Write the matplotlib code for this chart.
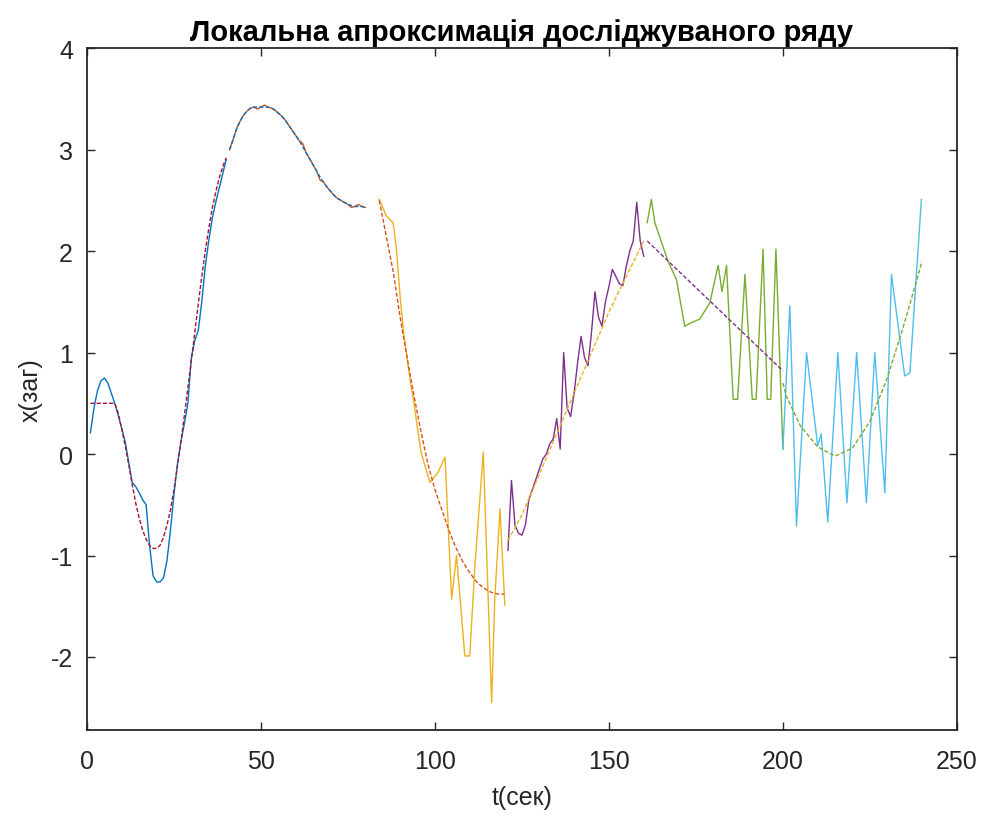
import matplotlib
matplotlib.use("Agg")
import matplotlib.pyplot as plt

plt.rcParams['font.family'] = ['Liberation Sans', 'DejaVu Sans']
plt.rcParams['axes.unicode_minus'] = False

# colour order (MATLAB default palette)
C = [(0.000, 0.447, 0.741), (0.850, 0.325, 0.098), (0.929, 0.694, 0.125),
     (0.494, 0.184, 0.556), (0.466, 0.674, 0.188), (0.301, 0.745, 0.933),
     (0.635, 0.078, 0.184)]

# ---- segment 1 (t = 1..40)
t1 = list(range(1, 41))
x1 = [0.21, 0.45, 0.62, 0.72, 0.75, 0.70, 0.60, 0.50, 0.38, 0.25,
      0.12, -0.08, -0.28, -0.32, -0.38, -0.45, -0.50, -0.90, -1.20, -1.26,
      -1.26, -1.22, -1.05, -0.75, -0.40, -0.10, 0.12, 0.30, 0.50, 0.95,
      1.12, 1.22, 1.50, 1.85, 2.10, 2.32, 2.48, 2.62, 2.76, 2.90]
ta1 = [1] + list(range(8, 41))
a1 = [0.50, 0.50, 0.40, 0.25, 0.08, -0.10, -0.30, -0.48, -0.63, -0.75,
      -0.84, -0.90, -0.93, -0.93, -0.90, -0.82, -0.70, -0.55, -0.35, -0.12,
      0.12, 0.38, 0.65, 0.92, 1.20, 1.48, 1.75, 2.00, 2.22, 2.42,
      2.58, 2.72, 2.83, 2.92]

# ---- segment 2 (t = 41..80)
t2 = list(range(41, 81))
x2 = [3.00, 3.10, 3.21, 3.28, 3.34, 3.38, 3.41, 3.42, 3.40, 3.42,
      3.44, 3.42, 3.41, 3.39, 3.36, 3.33, 3.29, 3.24, 3.19, 3.14,
      3.09, 3.06, 2.97, 2.91, 2.85, 2.79, 2.70, 2.68, 2.63, 2.59,
      2.55, 2.52, 2.50, 2.48, 2.46, 2.43, 2.44, 2.46, 2.44, 2.43]
a2 = [3.00, 3.10, 3.20, 3.28, 3.34, 3.38, 3.41, 3.42, 3.42, 3.42,
      3.42, 3.42, 3.41, 3.39, 3.36, 3.33, 3.29, 3.24, 3.19, 3.14,
      3.09, 3.03, 2.97, 2.91, 2.85, 2.79, 2.73, 2.68, 2.63, 2.59,
      2.55, 2.52, 2.50, 2.48, 2.46, 2.45, 2.44, 2.44, 2.44, 2.43]

# ---- segment 3 (t = 84..120)
t3 = [84, 86, 88, 89, 90, 91, 92, 93, 94, 95, 96, 97, 98.6, 100.9, 102.9,
      104.8, 106.2, 108.6, 110, 111.5, 113.9, 116.3, 117.2, 118.7, 120.1]
x3 = [2.51, 2.35, 2.28, 2.00, 1.55, 1.20, 0.95, 0.70, 0.50, 0.25, 0.02, -0.10,
      -0.28, -0.18, -0.03, -1.43, -1.00, -1.99, -1.99, -1.10, 0.02, -2.45,
      -1.43, -0.54, -1.49]
ta3 = [84, 86, 88, 90, 92, 94, 96, 98, 100, 102, 104, 106, 108, 110, 112,
       114, 116, 118, 120]
a3 = [2.50, 2.15, 1.80, 1.35, 0.95, 0.57, 0.22, -0.10, -0.35, -0.55, -0.75,
      -0.92, -1.06, -1.17, -1.26, -1.32, -1.36, -1.38, -1.38]

# ---- segment 4 (t = 121..160)
t4 = list(range(121, 161))
x4 = [-0.95, -0.26, -0.70, -0.78, -0.80, -0.70, -0.45, -0.35, -0.25, -0.15,
      -0.05, 0.00, 0.10, 0.15, 0.35, 0.05, 1.00, 0.45, 0.37, 0.60,
      0.90, 1.16, 0.95, 0.87, 1.20, 1.60, 1.35, 1.26, 1.50, 1.65,
      1.82, 1.75, 1.68, 1.66, 1.85, 2.00, 2.10, 2.48, 2.10, 1.95]
ta4 = [121, 125, 130, 135, 140, 145, 150, 155, 160]
a4 = [-0.85, -0.60, -0.20, 0.20, 0.60, 1.00, 1.40, 1.75, 2.10]

# ---- segment 5 (t = 161..200)
t5 = [161, 162.2, 163.2, 165.1, 167, 169.4, 171.8, 174, 176.1, 179, 181.4,
      182.5, 183.8, 185.7, 187, 189.1, 191.2, 192.3, 194.3, 195.5, 196.5,
      198, 200]
x5 = [2.28, 2.51, 2.28, 2.09, 1.90, 1.72, 1.26, 1.30, 1.33, 1.49, 1.86,
      1.60, 1.86, 0.54, 0.54, 1.77, 0.54, 0.54, 2.02, 0.54, 0.54,
      2.02, 0.05]
ta5 = [161, 200]
a5 = [2.10, 0.82]

# ---- segment 6 (t = 200..240)
t6 = [200, 202, 203.9, 206.8, 210, 211, 212.9, 215.8, 218.4, 221.2, 224,
      226.4, 229.3, 231.2, 235, 236.5, 239.8]
x6 = [0.05, 1.46, -0.71, 1.00, 0.08, 0.20, -0.67, 1.00, -0.48, 1.00, -0.48,
      1.00, -0.38, 1.77, 0.77, 0.80, 2.51]
ta6 = [200, 201, 205, 210, 215, 220, 225, 230, 235, 240]
a6 = [0.70, 0.57, 0.28, 0.07, -0.02, 0.06, 0.32, 0.75, 1.30, 1.90]

raw = [(t1, x1), (t2, x2), (t3, x3), (t4, x4), (t5, x5), (t6, x6)]
approx = [(ta1, a1), (t2, a2), (ta3, a3), (ta4, a4), (ta5, a5), (ta6, a6)]

fig = plt.figure(figsize=(9.88, 8.2), dpi=100)
ax = fig.add_axes([0.088, 0.1085, 0.8805, 0.8315])

for i, (t, x) in enumerate(raw):
    ax.plot(t, x, color=C[i % 7], lw=1.0)
for i, (t, x) in enumerate(approx):
    ax.plot(t, x, color=C[(i + 6) % 7], lw=1.0, ls=(0, (3, 1.5)))

ax.set_xlim(0, 250)
ax.set_ylim(-2.72, 4)
ax.set_xticks([0, 50, 100, 150, 200, 250])
ax.set_yticks([-2, -1, 0, 1, 2, 3, 4])

axc = (0.15, 0.15, 0.15)
for s in ax.spines.values():
    s.set_color(axc)
    s.set_linewidth(1.3)
ax.tick_params(direction='in', length=6, width=1.0, colors=axc,
               labelsize=18, top=True, right=True)
ax.tick_params(axis='x', pad=14)
ax.tick_params(axis='y', pad=10)

ax.set_title('Локальна апроксимація досліджуваного ряду',
             fontsize=21, fontweight='bold', pad=6)
ax.set_xlabel('t(сек)', fontsize=18, color=axc, labelpad=8)
ax.set_ylabel('x(заг)', fontsize=18, color=axc, labelpad=6)

fig.savefig('out.png', dpi=100)
